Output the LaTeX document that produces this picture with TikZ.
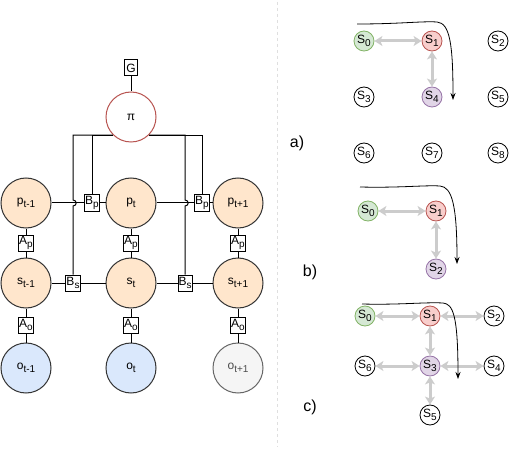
\documentclass[tikz,border=0pt]{standalone}
\usepackage{fontspec}
\setmainfont{Liberation Sans}
\usetikzlibrary{arrows.meta}

\definecolor{peach}{HTML}{FFE6CC}
\definecolor{skyfill}{HTML}{DAE8FC}
\definecolor{greyfill}{HTML}{F5F5F5}
\definecolor{greyline}{HTML}{666666}
\definecolor{redline}{HTML}{B85450}
\definecolor{redfill}{HTML}{F8CECC}
\definecolor{greenfill}{HTML}{D5E8D4}
\definecolor{greenline}{HTML}{82B366}
\definecolor{purplefill}{HTML}{E1D5E7}
\definecolor{purpleline}{HTML}{9673A6}
\definecolor{movegrey}{HTML}{CCCCCC}

\newcommand{\idx}[1]{\raisebox{-3pt}{\fontsize{10}{12}\selectfont #1}}

\begin{document}
\begin{tikzpicture}[x=1pt, y=-1pt,
        every node/.style={font=\fontsize{12}{14}\selectfont},
        var/.style={circle, draw=black!80, line width=1pt, minimum size=50pt, inner sep=0pt, fill=peach},
        fac/.style={rectangle, draw, line width=1pt, fill=white, minimum width=14pt, minimum height=16pt, inner sep=0.5pt},
        wire/.style={line width=1pt},
        state/.style={circle, draw, line width=0.8pt, minimum size=20pt, inner sep=0pt, fill=white},
        move/.style={draw=movegrey, line width=3pt, {Stealth[length=8pt,width=10pt,inset=2pt]}-{Stealth[length=8pt,width=10pt,inset=2pt]}},
        route/.style={line width=0.8pt, -{Stealth[length=7pt,width=5pt]}},
        panel/.style={font=\fontsize{16}{19}\selectfont},
        col0/.style={fill=greenfill, draw=greenline},
        col1/.style={fill=redfill, draw=redline},
        col4/.style={fill=purplefill, draw=purpleline}]
    \newcommand{\colp}{26}
    \newcommand{\colq}{131}
    \newcommand{\colr}{238}

    \useasboundingbox (0,0) rectangle (511,449);

    % Divider
    \draw[gray!25, dashed, dash pattern=on 3pt off 3pt] (277,2) -- (277,447);

    % Policy and goal
    \node[fac, minimum width=13pt] (G) at (\colq,68) {G};
    \node[var, fill=white, draw=redline] (pi) at (\colq,117) {π};

    % Variable nodes
    \foreach \x [count=\i from 0] in {\colp,\colq,\colr} {
        \node[var] (p\i) at (\x,203) {};
        \node[var] (s\i) at (\x,283) {};
        \node[fac] (Ap\i) at (\x,243) {A\idx{p}};
        \node[fac] (Ao\i) at (\x,325) {A\idx{o}};
    }
    \node at (p0) {p\idx{t-1}};
    \node at (p1) {p\idx{t}};
    \node at (p2) {p\idx{t+1}};
    \node at (s0) {s\idx{t-1}};
    \node at (s1) {s\idx{t}};
    \node at (s2) {s\idx{t+1}};
    \node[var, fill=skyfill] (o0) at (\colp,368) {o\idx{t-1}};
    \node[var, fill=skyfill] (o1) at (\colq,368) {o\idx{t}};
    \node[var, fill=greyfill, draw=greyline, text=black!70] (o2) at (\colr,368) {o\idx{t+1}};

    % Transition factors
    \node[fac] (Bp1) at (92,203) {B\idx{p}};
    \node[fac] (Bp2) at (202,203) {B\idx{p}};
    \node[fac] (Bs1) at (73,283) {B\idx{s}};
    \node[fac] (Bs2) at (185,283) {B\idx{s}};

    % Draw factor edges
    \draw[wire] (G) -- (pi);
    \foreach \i in {0,1,2} {
        \draw[wire] (p\i) -- (Ap\i) -- (s\i);
        \draw[wire] (s\i) -- (Ao\i) -- (o\i);
    }
    \draw[wire] (p0) -- (Bp1) -- (p1);
    \draw[wire] (p1) -- (Bp2) -- (p2);
    \draw[wire] (s0) -- (Bs1) -- (s1);
    \draw[wire] (s1) -- (Bs2) -- (s2);

    % Policy edges, with line jumps
    \draw[wire] (pi.south west) -| (Bp1.north);
    \draw[wire] (pi.south east) -| (Bp2.north);
    \draw[wire] (pi.south west) -| ([yshift=3pt]Bs1.north |- p0.east)
        to[out=0, in=0, looseness=1.8] ([yshift=-3pt]Bs1.north |- p0.east) -- (Bs1.north);
    \draw[wire] (pi.south east) -| ([yshift=3pt]Bs2.north |- p1.east)
        to[out=0, in=0, looseness=1.8] ([yshift=-3pt]Bs2.north |- p1.east) -- (Bs2.north);

    % Panel a
    \node[panel] (la) at (297,143) {a)};
    \foreach \y [count=\j from 0] in {41,97,153} {
        \foreach \x [count=\i from 0] in {364,432,498} {
            \pgfmathtruncatemacro{\k}{3*\j+\i}
            \node[state, col\k/.try] (a\k) at (\x,\y) {S\idx{\k}};
        }
    }
    \draw[move] (a0) -- (a1);
    \draw[move] (a1) -- (a4);
    \coordinate (ra0) at (357,24);
    \coordinate (ra1) at (453,100);
    \draw[route] (ra0) .. controls (400,24) and (422,21) .. (437,22)
        .. controls (450,23) and (453,45) .. (ra1);

    % Panel b
    \node[panel] (lb) at (310,272) {b)};
    \node[state, col0] (b0) at (368,211) {S\idx{0}};
    \node[state, col1] (b1) at (436,211) {S\idx{1}};
    \node[state, col4] (b2) at (436,269) {S\idx{2}};
    \draw[move] (b0) -- (b1);
    \draw[move] (b1) -- (b2);
    \coordinate (rb0) at (360,187);
    \coordinate (rb1) at (457,264);
    \draw[route] (rb0) .. controls (400,188) and (425,185) .. (440,186)
        .. controls (452,187) and (457,205) .. (rb1);

    % Panel c
    \node[panel] (lc) at (310,407) {c)};
    \node[state, col0] (c0) at (365,316) {S\idx{0}};
    \node[state, col1] (c1) at (430,316) {S\idx{1}};
    \node[state] (c2) at (494,316) {S\idx{2}};
    \node[state] (c6) at (365,366) {S\idx{6}};
    \node[state, col4] (c3) at (430,366) {S\idx{3}};
    \node[state] (c4) at (494,366) {S\idx{4}};
    \node[state] (c5) at (430,415) {S\idx{5}};
    \draw[move] (c0) -- (c1);
    \draw[move] (c1) -- (c2);
    \draw[move] (c1) -- (c3);
    \draw[move] (c6) -- (c3);
    \draw[move] (c3) -- (c4);
    \draw[move] (c3) -- (c5);
    \coordinate (rc0) at (362,304);
    \coordinate (rc1) at (458,379);
    \draw[route] (rc0) .. controls (400,305) and (425,302) .. (443,303)
        .. controls (453,304) and (458,315) .. (rc1);
\end{tikzpicture}
\end{document}
